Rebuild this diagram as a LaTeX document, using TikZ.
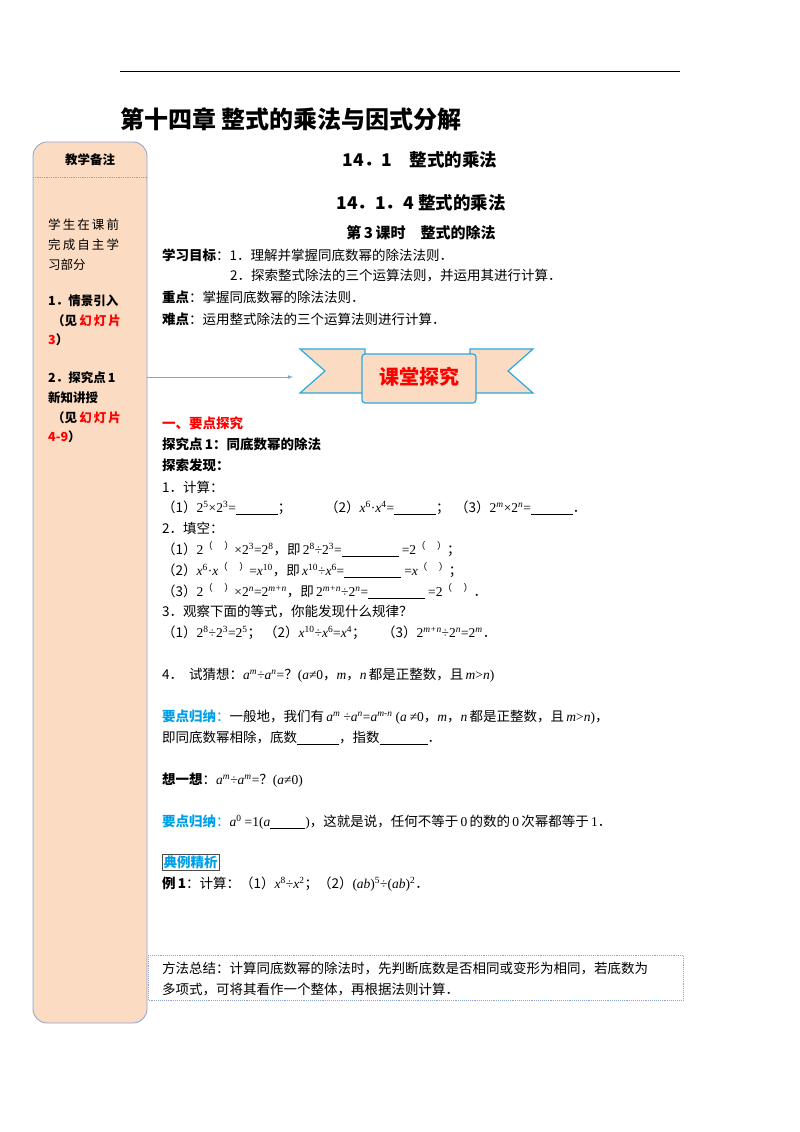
\documentclass[tikz,border=0pt]{standalone}
\usepackage{fontspec}
\setmainfont{Noto Sans CJK SC}
\newfontfamily\ser{Liberation Serif}
\newcommand\vv[1]{{\ser\itshape #1}}
\newcommand\nn[1]{{\ser #1}}
\newcommand\supi[1]{\textsuperscript{\ser\itshape #1}}
\newcommand\spn[1]{\textsuperscript{\ser #1}}
\newcommand\spp{\textsuperscript{（\quad\ ）}}
\newcommand\blank[1]{\rule[-2pt]{#1}{0.5pt}}
\definecolor{peach}{RGB}{251,219,194}
\definecolor{edge}{RGB}{140,165,205}
\definecolor{cyanb}{RGB}{0,160,233}
\definecolor{bandblue}{RGB}{40,170,225}
\begin{document}
\begin{tikzpicture}[x=1pt,y=-1pt,
  txt/.style={anchor=west,inner sep=0pt,font=\fontsize{13.5}{16}\selectfont},
  side/.style={anchor=west,inner sep=0pt,font=\fontsize{12.5}{15}\selectfont},
  sideb/.style={side,font=\fontsize{12.5}{15}\selectfont\bfseries},
  ctr/.style={anchor=center,inner sep=0pt,font=\fontsize{17.5}{20}\selectfont\bfseries}]
\useasboundingbox (0,0) rectangle (800,1132);
\fill[white] (0,0) rectangle (800,1132);
\draw[line width=1pt] (120,72) -- (680,72);
\node[anchor=west,inner sep=0pt,font=\fontsize{24}{26}\selectfont\bfseries] (title) at (120,119) {第十四章\ 整式的乘法与因式分解};
% sidebar
\draw[edge,fill=peach,line width=0.8pt,rounded corners=14pt] (33,142) rectangle (147,1023);
\draw[edge,densely dotted,line width=0.8pt] (33,177) -- (147,177);
\node[anchor=center,inner sep=0pt,font=\fontsize{12.5}{14}\selectfont\bfseries] (sh) at (90,160) {教学备注};
\node[side] (s1) at (48,225) {学\,生\,在\,课\,前};
\node[side] (s2) at (48,245) {完\,成\,自\,主\,学};
\node[side] (s3) at (48,265) {习部分};
\node[sideb] (s4) at (48,301) {1．情景引入};
\node[sideb] (s5) at (52,321) {（见\,\textcolor{red}{幻\,灯\,片}};
\node[sideb] (s6) at (48,340) {\textcolor{red}{3}）};
\node[sideb] (s7) at (48,378) {2．探究点\,1};
\node[sideb] (s8) at (48,398) {新知讲授};
\node[sideb] (s9) at (52,418) {（见\,\textcolor{red}{幻\,灯\,片}};
\node[sideb] (s10) at (48,437) {\textcolor{red}{4-9}）};
\coordinate (arS) at (147,377);
\coordinate (arE) at (293,377);
% banner
\begin{scope}[bandblue,line width=1.2pt]
\draw[fill=peach] (300,349) -- (365,349) -- (365,393) -- (300,393) -- (325,371) -- cycle;
\draw[fill=peach] (470,349) -- (533,349) -- (508,371) -- (533,393) -- (470,393) -- cycle;
\draw[fill=peach,rounded corners=3pt] (362,354) rectangle (476,403);
\end{scope}
\node[anchor=center,font=\fontsize{20}{22}\selectfont\bfseries,text=red] (ban) at (419,377) {课堂探究};
\draw[edge,line width=0.8pt,-latex] (arS) -- (arE);
% headings
\node[ctr] (h1) at (420,160) {14．1\quad 整式的乘法};
\node[ctr] (h2) at (421,203) {14．1．4 整式的乘法};
\node[ctr,font=\fontsize{15}{17}\selectfont\bfseries] (h3) at (421,233) {第\,3\,课时\quad 整式的除法};
\node[txt] (g1) at (162,255) {\textbf{学习目标}：1．理解并掌握同底数幂的除法法则．};
\node[txt] (g2) at (230,276) {2．探索整式除法的三个运算法则，并运用其进行计算．};
\node[txt] (g3) at (162,297) {\textbf{重点}：掌握同底数幂的除法法则．};
\node[txt] (g4) at (162,319) {\textbf{难点}：运用整式除法的三个运算法则进行计算．};
\node[txt,text=red,font=\fontsize{13.5}{16}\selectfont\bfseries] (r1) at (162,423) {一、要点探究};
\node[txt,font=\fontsize{13.5}{16}\selectfont\bfseries] (r2) at (162,444) {探究点\,1：同底数幂的除法};
\node[txt,font=\fontsize{13.5}{16}\selectfont\bfseries] (r3) at (162,465) {探索发现：};
\node[txt] (p1) at (162,487) {1．计算：};
\node[txt] (p2) at (162,508) {（1）\nn{2}\spn{5}\nn{×2}\spn{3}\nn{=}\blank{42pt}；};
\node[txt] (p3) at (325,508) {（2）\vv{x}\spn{6}\nn{·}\vv{x}\spn{4}\nn{=}\blank{42pt}；};
\node[txt] (p4) at (455,508) {（3）\nn{2}\supi{m}\nn{×2}\supi{n}\nn{=}\blank{42pt}．};
\node[txt] (p5) at (162,528) {2．填空：};
\node[txt] (p6) at (162,549) {（1）\nn{2}\spp\nn{×2}\spn{3}\nn{=2}\spn{8}，即\,\nn{2}\spn{8}\nn{÷2}\spn{3}\nn{=}\blank{57pt}\ \nn{=2}\spp；};
\node[txt] (p7) at (162,570) {（2）\vv{x}\spn{6}\nn{·}\vv{x}\spp\nn{=}\vv{x}\spn{10}，即\,\vv{x}\spn{10}\nn{÷}\vv{x}\spn{6}\nn{=}\blank{57pt}\ \nn{=}\vv{x}\spp；};
\node[txt] (p8) at (162,591) {（3）\nn{2}\spp\nn{×2}\supi{n}\nn{=2}\supi{m+n}，即\,\nn{2}\supi{m+n}\nn{÷2}\supi{n}\nn{=}\blank{57pt}\ \nn{=2}\spp．};
\node[txt] (p9) at (162,612) {3．观察下面的等式，你能发现什么规律？};
\node[txt] (p10) at (162,633) {（1）\nn{2}\spn{8}\nn{÷2}\spn{3}\nn{=2}\spn{5}；\ （2）\vv{x}\spn{10}\nn{÷}\vv{x}\spn{6}\nn{=}\vv{x}\spn{4}；\quad\ （3）\nn{2}\supi{m+n}\nn{÷2}\supi{n}\nn{=2}\supi{m}．};
\node[txt] (p11) at (162,675) {4．\ \ 试猜想：\vv{a}\supi{m}\nn{÷}\vv{a}\supi{n}\nn{=}？\nn{(}\vv{a}\nn{≠0}，\vv{m}，\vv{n}\,都是正整数，且\,\vv{m}\nn{>}\vv{n}\nn{)}};
\node[txt] (q1) at (162,717) {\textcolor{cyanb}{\textbf{要点归纳}：}一般地，我们有\,\vv{a}\supi{m}\ \nn{÷}\vv{a}\supi{n}\nn{=}\vv{a}\supi{m-n}\ \nn{(}\vv{a}\ \nn{≠0}，\vv{m}，\vv{n}\,都是正整数，且\,\vv{m}\nn{>}\vv{n}\nn{)}，};
\node[txt] (q2) at (162,738) {即同底数幂相除，底数\blank{42pt}，指数\blank{48pt}．};
\node[txt] (q3) at (162,780) {\textbf{想一想}：\vv{a}\supi{m}\nn{÷}\vv{a}\supi{m}\nn{=}？\nn{(}\vv{a}\nn{≠0)}};
\node[txt] (q4) at (162,822) {\textcolor{cyanb}{\textbf{要点归纳}：}\vv{a}\spn{0}\ \nn{=1(}\vv{a}\blank{35pt}\nn{)}，这就是说，任何不等于\,\nn{0}\,的数的\,\nn{0}\,次幂都等于\,\nn{1}．};
\node[txt,draw=black!70,inner sep=1.5pt,text=cyanb,font=\fontsize{13.5}{16}\selectfont\bfseries] (q5) at (162,862) {典例精析};
\node[txt] (q6) at (162,884) {\textbf{例\,1}：计算：（1）\vv{x}\spn{8}\nn{÷}\vv{x}\spn{2}；（2）\nn{(}\vv{ab}\nn{)}\spn{5}\nn{÷(}\vv{ab}\nn{)}\spn{2}．};
\draw[edge,densely dotted,line width=0.9pt] (148,955) rectangle (683,1000);
\node[txt] (m1) at (162,968) {方法总结：计算同底数幂的除法时，先判断底数是否相同或变形为相同，若底数为};
\node[txt] (m2) at (162,990) {多项式，可将其看作一个整体，再根据法则计算．};
\end{tikzpicture}
\end{document}
